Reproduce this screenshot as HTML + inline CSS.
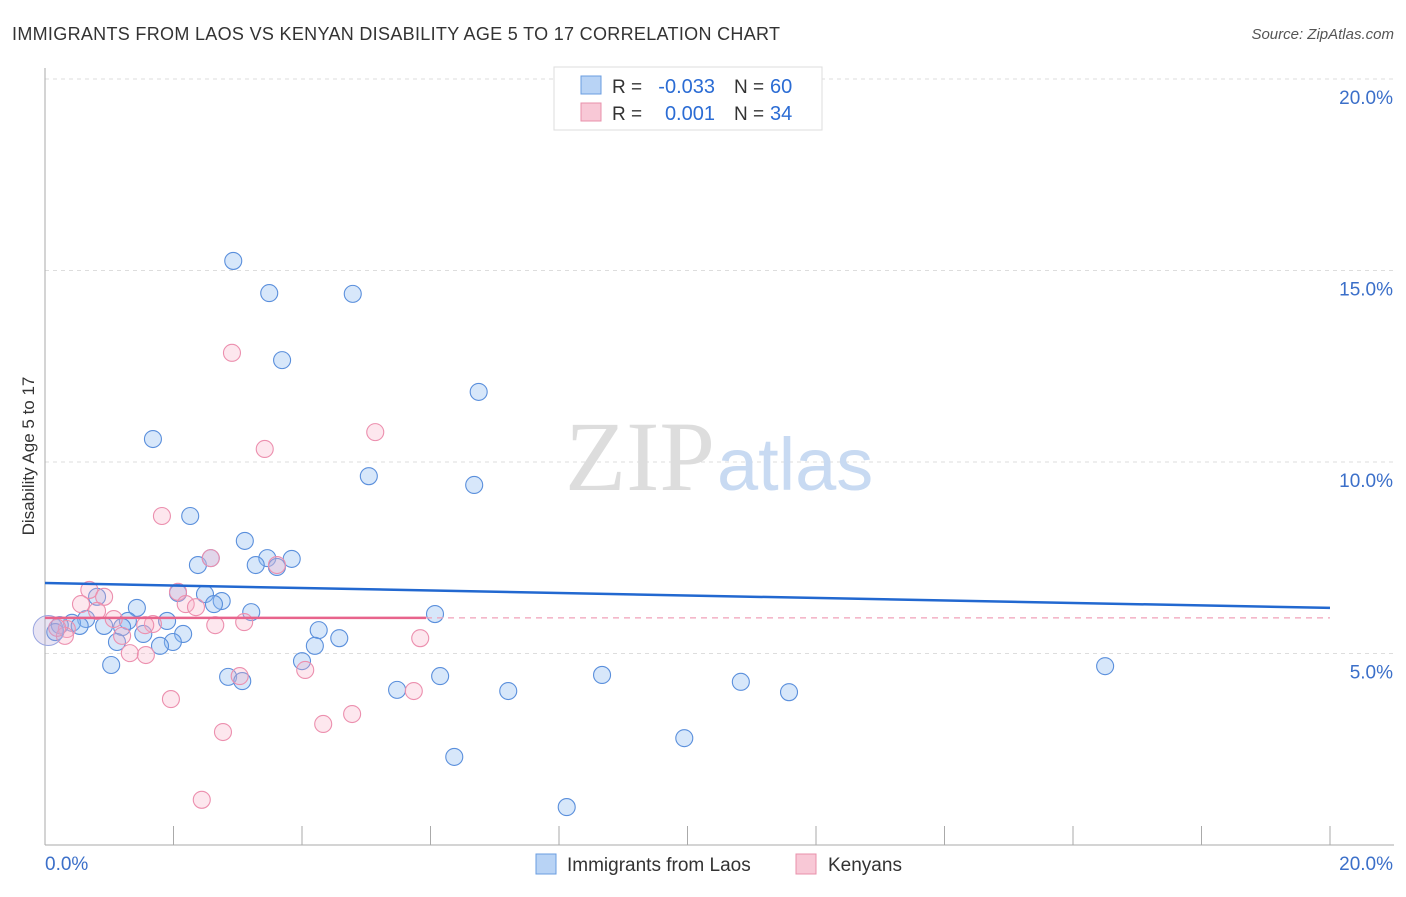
<!DOCTYPE html>
<html><head><meta charset="utf-8"><style>
body{margin:0;background:#fff;font-family:"Liberation Sans",sans-serif}
</style></head><body>
<svg id="chart" width="1406" height="892" xmlns="http://www.w3.org/2000/svg" font-family="Liberation Sans, sans-serif">
<text x="12" y="40" font-size="18" fill="#333" textLength="768">IMMIGRANTS FROM LAOS VS KENYAN DISABILITY AGE 5 TO 17 CORRELATION CHART</text>
<text x="1394" y="39" font-size="15" fill="#555" text-anchor="end" font-style="italic">Source: ZipAtlas.com</text>
<g id="grid"></g>
<text x="715" y="490" font-size="100" text-anchor="end" fill="#ddd" font-family="Liberation Serif, serif">ZIP</text>
<text x="717" y="490" font-size="74" fill="#c8daf2">atlas</text>
<text transform="translate(34,456) rotate(-90)" font-size="17" fill="#333" text-anchor="middle">Disability Age 5 to 17</text>
<g id="marks"></g>
<g>
<rect x="554" y="67" width="268" height="63" fill="#fff" stroke="#ddd"/>
<rect x="581" y="76" width="20" height="18" fill="#b8d3f5" stroke="#6a9de0"/>
<rect x="581" y="103" width="20" height="18" fill="#f8c8d6" stroke="#e890ab"/>
<text x="612" y="93" font-size="19" fill="#333">R =</text>
<text x="715" y="93" font-size="20" fill="#2b6cd4" text-anchor="end">-0.033</text>
<text x="734" y="93" font-size="19" fill="#333">N =</text>
<text x="770" y="93" font-size="20" fill="#2b6cd4">60</text>
<text x="612" y="120" font-size="19" fill="#333">R =</text>
<text x="715" y="120" font-size="20" fill="#2b6cd4" text-anchor="end">0.001</text>
<text x="734" y="120" font-size="19" fill="#333">N =</text>
<text x="770" y="120" font-size="20" fill="#2b6cd4">34</text>
</g>
<g>
<rect x="536" y="854" width="20" height="20" fill="#b8d3f5" stroke="#6a9de0"/>
<text x="567" y="871" font-size="19" fill="#333">Immigrants from Laos</text>
<rect x="796" y="854" width="20" height="20" fill="#f8c8d6" stroke="#e890ab"/>
<text x="828" y="871" font-size="19" fill="#333">Kenyans</text>
</g>
</svg>
<script>
const yTicks=[5,10,15,20];
const xTickLabels=["0.0%","20.0%"];
const blueX=[2.93,3.49,4.79,3.69,6.75,1.68,5.04,6.68,2.26,3.11,3.46,3.84,3.28,2.38,2.58,3.61,2.07,0.81,2.49,2.75,2.63,3.21,1.43,6.07,1.90,1.29,0.64,0.42,0.92,0.54,0.23,0.16,1.20,1.53,2.15,4.26,1.12,1.99,1.79,4.58,4.20,1.03,4.00,16.50,2.85,3.07,6.15,8.67,10.83,5.48,7.21,11.58,9.95,6.37,8.12,8.83];
const blueY=[15.25,14.41,14.39,12.66,11.83,10.60,9.63,9.40,8.59,7.94,7.49,7.47,7.31,7.31,7.49,7.26,6.58,6.48,6.55,6.37,6.29,6.08,6.19,6.03,5.85,5.85,5.90,5.80,5.72,5.72,5.74,5.56,5.69,5.51,5.51,5.61,5.30,5.30,5.20,5.40,5.20,4.70,4.80,4.67,4.39,4.28,4.41,4.44,4.26,4.05,4.02,3.99,2.79,2.30,0.99,19.97];
const pinkX=[2.91,5.14,3.42,1.82,2.58,3.61,2.07,0.69,0.92,0.56,2.19,2.35,0.81,1.07,1.68,1.56,2.65,3.10,0.34,0.31,1.20,5.84,1.32,1.57,3.03,4.05,5.74,1.96,4.78,4.33,2.77,2.44,0.19];
const pinkY=[12.85,10.78,10.34,8.59,7.49,7.31,6.61,6.66,6.48,6.29,6.29,6.21,6.11,5.90,5.77,5.74,5.74,5.82,5.64,5.46,5.46,5.40,5.01,4.96,4.41,4.57,4.02,3.81,3.42,3.16,2.95,1.18,5.67];
const blueTrend=[6.84,6.19];
const pinkTrend=[5.93,5.93];
const NS="http://www.w3.org/2000/svg";
const X=v=>45+v/20*1285, Y=v=>845-v/5*191.5;
function mk(t,a,p){const e=document.createElementNS(NS,t);for(const k in a)e.setAttribute(k,a[k]);p.appendChild(e);return e;}
const g=document.getElementById('grid'), m=document.getElementById('marks');
yTicks.forEach(t=>{
 const l=mk('line',{x1:45,x2:1394,y1:Y(t),y2:Y(t),stroke:'#ddd','stroke-dasharray':'4,4'},g);
 
 
 const tx=mk('text',{x:1393,y:Y(t)+25,'font-size':19,fill:'#3b6fc9','text-anchor':'end'},g);
 tx.textContent=t.toFixed(1)+'%';
 
 
});
mk('line',{x1:45,x2:45,y1:68,y2:845,stroke:'#aaa'},g);
mk('line',{x1:45,x2:1394,y1:845,y2:845,stroke:'#aaa'},g);
for(let i=0;i<=10;i++){const t=mk('line',{x1:X(i*2),x2:X(i*2),y1:826,y2:845,stroke:'#aaa'},g);}
[[0,45,'start'],[20,1393,'end']].forEach((d,i)=>{const t=mk('text',{x:d[1],y:870,'font-size':19,fill:'#3b6fc9','text-anchor':d[2]},g);t.textContent=xTickLabels[i];});
blueX.forEach((x,i)=>{const c=mk('circle',{cx:X(x),cy:Y(blueY[i]),r:8.5,fill:'rgba(140,185,240,0.35)',stroke:'#5a8fdc','stroke-width':1.1},m);});
pinkX.forEach((x,i)=>{const c=mk('circle',{cx:X(x),cy:Y(pinkY[i]),r:8.5,fill:'rgba(248,175,200,0.3)',stroke:'#ec8fae','stroke-width':1.1},m);});
let big=mk('circle',{cx:X(0.05),cy:Y(5.6),r:15,fill:'rgba(180,165,215,0.3)',stroke:'#9aa6e0'},m);


let pd=mk('line',{x1:X(5.93),x2:X(20),y1:Y(pinkTrend[1]),y2:Y(pinkTrend[1]),stroke:'#f0a0b8','stroke-dasharray':'6,5','stroke-width':1.2},m);


let pt=mk('line',{x1:X(0),x2:X(5.93),y1:Y(pinkTrend[0]),y2:Y(pinkTrend[1]),stroke:'#e8648c','stroke-width':2.5},m);


let bt=mk('line',{x1:X(0),x2:X(20),y1:Y(blueTrend[0]),y2:Y(blueTrend[1]),stroke:'#2268d0','stroke-width':2.5},m);


</script>
</body></html>
